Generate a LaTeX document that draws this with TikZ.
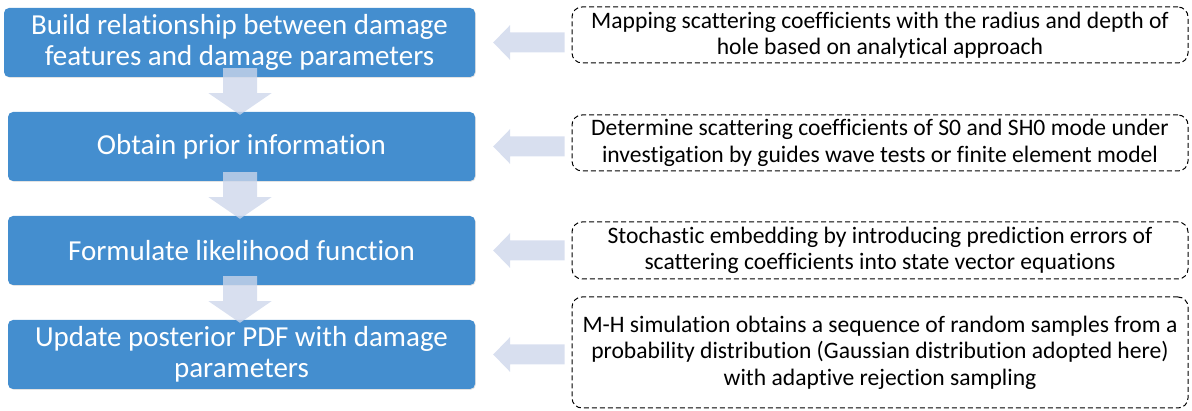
\documentclass[tikz,border=0pt]{standalone}
\usepackage{fontspec}
\setmainfont{Carlito}[Ligatures=NoCommon]
\usetikzlibrary{calc,shadows}
\definecolor{stepblue}{HTML}{448ECF}
\definecolor{flowarrow}{HTML}{CDD6EB}
\tikzset{
  stepbox/.style={draw=none, fill=stepblue, rounded corners=5pt, text=white,
    align=center, inner sep=0pt, minimum width=471pt, minimum height=69pt,
    font=\fontsize{29}{31.5}\selectfont,
    drop shadow={opacity=0.22, shadow xshift=0.8pt, shadow yshift=-0.8pt}},
  notebox/.style={draw=black, dashed, dash pattern=on 5pt off 3pt, line width=1pt,
    rounded corners=10pt, align=center, inner sep=0pt, minimum width=616pt,
    font=\fontsize{23.6}{26.5}\selectfont},
  blockarrow/.style={fill=flowarrow, draw=none, fill opacity=0.78}
}
\begin{document}
\begin{tikzpicture}[x=1pt, y=-1pt]
\useasboundingbox (0,0) rectangle (1192,411);

% process steps
\node[stepbox, minimum width=471pt] (b1) at (239.5,42.5) {Build relationship between damage\\features and damage parameters};
\node[stepbox, minimum width=467pt] (b2) at (241.5,146.5) {Obtain prior information};
\node[stepbox, minimum width=467pt] (b3) at (241.5,250.5) {Formulate likelihood function};
\node[stepbox, minimum width=467pt] (b4) at (241.5,354.5) {Update posterior PDF with damage\\parameters};

% explanations
\node[notebox, minimum height=56pt] (d1) at (880,35) {Mapping scattering coefficients with the radius and depth of\\hole based on analytical approach};
\node[notebox, minimum height=56pt] (d2) at (880,143) {Determine scattering coefficients of S0 and SH0 mode under\\investigation by guides wave tests or finite element model};
\node[notebox, minimum height=57pt] (d3) at (880,250.5) {Stochastic embedding by introducing prediction errors of\\scattering coefficients into state vector equations};
\node[notebox, minimum height=111pt] (d4) at (880,352.5) {M-H simulation obtains a sequence of random samples from a\\probability distribution (Gaussian distribution adopted here)\\with adaptive rejection sampling};

% downward block arrows between steps (let-values are canvas pt, y pointing up)
\foreach \a/\b in {b1/b2, b2/b3, b3/b4}{
  \path let \p1=(\a.south), \p2=(\b.north) in
    [blockarrow] (240-17, \y1+9) -- (240+17, \y1+9) -- (240+17, \y1-16)
    -- (240+31.5, \y1-16) -- (240, \y2-3) -- (240-31.5, \y1-16)
    -- (240-17, \y1-16) -- cycle;
}

% leftward block arrows from explanations to steps
\foreach \s/\d in {b1/d1, b2/d2, b3/d3, b4/d4}{
  \path let \p1=(\s.east), \p2=(\d.west) in
    [blockarrow] (\x1+18, \y1) -- (\x1+35, \y1-17.5) -- (\x1+35, \y1-10)
    -- (\x2-7, \y1-10) -- (\x2-7, \y1+10) -- (\x1+35, \y1+10)
    -- (\x1+35, \y1+17.5) -- cycle;
}
\end{tikzpicture}
\end{document}
